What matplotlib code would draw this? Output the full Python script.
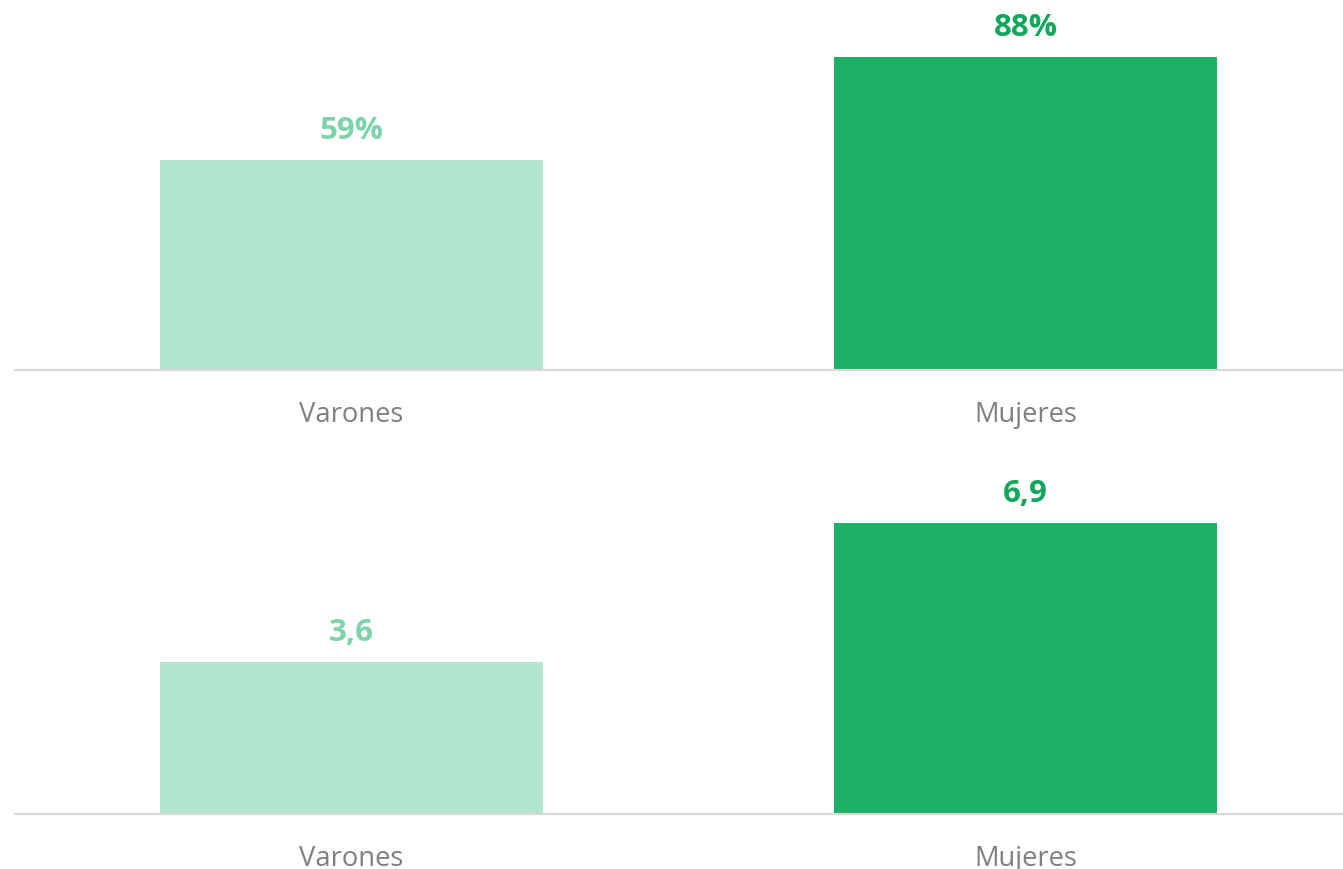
import matplotlib.pyplot as plt

# data
categories = ["Varones", "Mujeres"]
top_values = [59, 88]
top_labels = ["59%", "88%"]
bottom_values = [3.6, 6.9]
bottom_labels = ["3,6", "6,9"]

bar_colors = ["#B4E5CE", "#1EB066"]
label_colors = ["#7DD3A9", "#0FA85A"]

plt.rcParams['font.family'] = ['Open Sans', 'DejaVu Sans']

W, H = 1343, 869
fig = plt.figure(figsize=(W / 100, H / 100), dpi=100)


def panel(base_y, top_y, values, labels, ymax):
    # base_y / top_y are pixel rows from the top of the image
    ax = fig.add_axes([15 / W, 1 - base_y / H, 1 - 15 / W, (base_y - top_y) / H])
    x = range(len(values))
    ax.bar(x, values, width=0.568, color=bar_colors)
    ax.set_xlim(-0.499, 1.471)
    ax.set_ylim(0, ymax)
    for i, (v, lab) in enumerate(zip(values, labels)):
        ax.annotate(lab, (i, v), xytext=(0, 10), textcoords="offset points",
                    ha="center", va="bottom", fontsize=22.5, fontweight="bold",
                    color=label_colors[i])
    for s in ["top", "right", "left"]:
        ax.spines[s].set_visible(False)
    ax.spines["bottom"].set_color("#D9D9D9")
    ax.spines["bottom"].set_linewidth(1.5)
    ax.set_yticks([])
    ax.set_xticks(list(x))
    ax.set_xticklabels(categories, fontsize=19.7, color="#7F7F7F")
    ax.tick_params(axis="x", length=0, pad=22)
    return ax


panel(370, 0, top_values, top_labels, 370 / (313 / 88))
panel(814, 445, bottom_values, bottom_labels, 369 / (291 / 6.9))

fig.savefig("out.png", dpi=100)
